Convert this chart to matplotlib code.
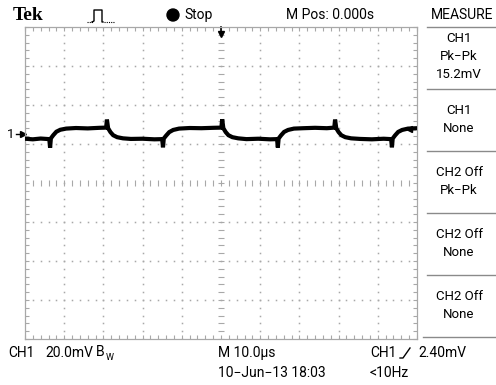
import numpy as np
import matplotlib
matplotlib.use("Agg")
import matplotlib.pyplot as plt
from matplotlib.patches import Circle

# ---- scope settings / readout ----
volts_div_mv = 20.0
time_div_us = 10.0
ch1_offset_mv = 25.1      # ground marker position on screen
trig_level_mv = 2.40
trig_pos_us = 50.0        # M Pos: 0.000s -> screen centre

# ---- CH1 trace (time in us, signal in mV) ----
t_us = [0.0, 2.0, 4.0, 6.2, 6.4, 6.6, 7.2, 8.0, 9.0, 10.5,
        13.0, 16.0, 19.0, 20.7, 20.9, 21.2, 21.8, 22.5, 23.5, 25.0,
        27.0, 30.0, 33.0, 35.0, 35.2, 35.4, 36.0, 36.8, 37.8, 39.3,
        42.0, 45.0, 48.0, 50.1, 50.3, 50.6, 51.2, 51.9, 52.9, 54.4,
        56.5, 59.5, 62.5, 64.3, 64.5, 64.7, 65.3, 66.1, 67.1, 68.6,
        71.0, 74.0, 77.0, 78.9, 79.1, 79.4, 80.0, 80.7, 81.7, 83.2,
        85.5, 88.5, 91.5, 93.4, 93.6, 93.8, 94.4, 95.2, 96.2, 97.7,
        100.0]
ch1_mv = [-2.4, -2.7, -2.3, -2.6, -7.0, -2.2, -0.6, 1.2, 2.2, 2.8,
          3.1, 2.9, 3.2, 3.3, 7.4, 3.0, 1.0, -0.6, -1.6, -2.2,
          -2.5, -2.4, -2.7, -2.6, -6.8, -2.3, -0.8, 1.0, 2.1, 2.8,
          3.1, 3.0, 3.2, 3.3, 7.6, 3.0, 1.0, -0.6, -1.6, -2.2,
          -2.6, -2.4, -2.7, -2.6, -6.9, -2.3, -0.7, 1.1, 2.1, 2.8,
          3.0, 3.2, 3.0, 3.3, 7.4, 3.0, 1.0, -0.6, -1.6, -2.2,
          -2.5, -2.7, -2.4, -2.6, -6.8, -2.3, -0.7, 1.1, 2.1, 2.8,
          3.0]

measure_boxes = [["CH1", "Pk\u2212Pk", "15.2mV"],
                 ["CH1", "None"],
                 ["CH2 Off", "Pk\u2212Pk"],
                 ["CH2 Off", "None"],
                 ["CH2 Off", "None"]]

W, H = 496, 385
FONT = ["Roboto", "DejaVu Sans"]
GRID = "#a8a8a8"

fig = plt.figure(figsize=(W / 100, H / 100), dpi=100)
fig.patch.set_facecolor("white")

# overlay in pixel coordinates for the screen furniture
px = fig.add_axes([0, 0, 1, 1])
px.set_xlim(0, W)
px.set_ylim(H, 0)
px.axis("off")

# graticule area
left, right, top, bottom = 25, 417, 27, 339
ax = fig.add_axes([left / W, 1 - bottom / H, (right - left) / W, (bottom - top) / H])
xmax = 10 * time_div_us
ymax = 4 * volts_div_mv
ax.set_xlim(0, xmax)
ax.set_ylim(-ymax, ymax)
ax.set_facecolor("none")
for s in ax.spines.values():
    s.set_color(GRID)
    s.set_linewidth(0.9)

minor_x = np.arange(0, xmax + 0.01, time_div_us / 5)
minor_y = np.arange(-ymax, ymax + 0.01, volts_div_mv / 5)
ax.set_xticks(minor_x)
ax.set_yticks(minor_y)
ax.tick_params(direction="in", length=3, width=0.8, color=GRID,
               top=True, right=True, labelbottom=False, labelleft=False)

# dotted grid lines
for gx in np.arange(time_div_us, xmax, time_div_us):
    if abs(gx - xmax / 2) < 1e-6:
        continue
    ax.plot(np.full_like(minor_y, gx), minor_y, ls="none", marker="s",
            ms=1.1, mec="none", color=GRID)
for gy in np.arange(-ymax + volts_div_mv, ymax, volts_div_mv):
    if abs(gy) < 1e-6:
        continue
    ax.plot(minor_x, np.full_like(minor_x, gy), ls="none", marker="s",
            ms=1.1, mec="none", color=GRID)
# centre lines with ticks
ax.plot(minor_x, np.zeros_like(minor_x), ls="none", marker="|", ms=4,
        mew=0.8, color=GRID)
ax.plot(np.full_like(minor_y, xmax / 2), minor_y, ls="none", marker="_", ms=4,
        mew=0.8, color=GRID)

# trace
ax.plot(t_us, np.array(ch1_mv) + ch1_offset_mv, color="black", lw=3.0,
        solid_joinstyle="miter", zorder=5)

# ground marker "1->"
ax.text(-3.6, ch1_offset_mv, "1", ha="center", va="center", fontsize=9.5,
        family=FONT, clip_on=False)
ax.plot([-2.2, -0.6], [ch1_offset_mv] * 2, color="black", lw=1, clip_on=False)
ax.plot(-0.6, ch1_offset_mv, marker=">", ms=4, color="black", clip_on=False)

# trigger level marker "<-" on the right edge
ax.plot([98.0, 99.6], [ch1_offset_mv + trig_level_mv] * 2, color="black",
        lw=1, zorder=6)
ax.plot(97.9, ch1_offset_mv + trig_level_mv, marker="<", ms=4, color="black",
        zorder=6)

# trigger position arrow at top
ax.plot([trig_pos_us] * 2, [ymax, ymax - 2.5], color="black", lw=1.2,
        clip_on=False)
ax.plot(trig_pos_us, ymax - 3.5, marker="v", ms=5, color="black",
        clip_on=False)

# ---- header ----
px.text(13, 15, "Tek", fontsize=14, fontweight="bold",
        family="Liberation Serif", va="center", ha="left")
# acquisition icon
px.plot([87, 93], [22, 22], color="black", lw=0.8, ls=(0, (1, 1)))
px.plot([92, 94, 94, 102, 102, 103], [22, 21, 10, 10, 22, 22], color="black", lw=1)
px.plot([104, 115], [22, 22], color="black", lw=0.8, ls=(0, (1, 1)))
px.add_patch(Circle((173, 15), 6, color="black"))
px.text(184, 15, "Stop", fontsize=10, family=FONT, va="center", ha="left")
px.text(330, 15, "M Pos: 0.000s", fontsize=10, family=FONT, va="center", ha="center")
px.text(462, 15, "MEASURE", fontsize=10, family=FONT, va="center", ha="center")

# ---- measure panel ----
box_top = 27
box_h = 62
for i, lines in enumerate(measure_boxes):
    y0 = box_top + i * box_h
    px.plot([427, W], [y0, y0], color="#8a8a8a", lw=1)
    cy = y0 + box_h / 2 - 1
    n = len(lines)
    for j, s in enumerate(lines):
        px.text(459, cy + (j - (n - 1) / 2) * 18, s, fontsize=9.5, family=FONT,
                va="center", ha="center")
px.plot([423, W], [box_top + 5 * box_h, box_top + 5 * box_h], color="#8a8a8a", lw=1)

# ---- bottom readout ----
px.text(8, 353, "CH1", fontsize=10, family=FONT, va="center", ha="left")
px.text(45, 353, "20.0mV", fontsize=10, family=FONT, va="center", ha="left")
px.text(96, 352, "B", fontsize=10, family=FONT, va="center", ha="left")
px.text(106, 357, "W", fontsize=6.5, family=FONT, va="center", ha="left")
px.text(218, 353, "M 10.0\u03bcs", fontsize=10, family=FONT, va="center", ha="left")
px.text(218, 373, "10\u2212Jun\u221213 18:03", fontsize=10, family=FONT,
        va="center", ha="left")
px.text(370, 353, "CH1", fontsize=10, family=FONT, va="center", ha="left")
px.plot([400, 403, 410], [358, 358, 348], color="black", lw=1)
px.text(418, 353, "2.40mV", fontsize=10, family=FONT, va="center", ha="left")
px.text(370, 373, "<10Hz", fontsize=10, family=FONT, va="center", ha="left")

fig.savefig("out.png", dpi=100, facecolor="white")
